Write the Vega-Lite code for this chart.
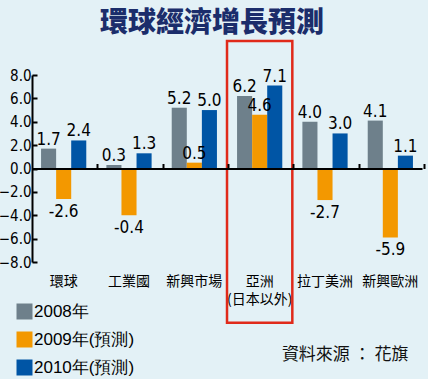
{
  "$schema": "https://vega.github.io/schema/vega-lite/v6.json",
  "width": 390,
  "height": 187,
  "autosize": {"type": "none"},
  "padding": {"left": 32, "top": 75, "right": 6, "bottom": 117},
  "background": "#e3f1f6",
  "title": {
    "text": "環球經濟增長預測",
    "font": "Noto Sans CJK TC",
    "fontSize": 28,
    "fontWeight": 900,
    "color": "#1b2d6b",
    "anchor": "middle",
    "dx": -15,
    "offset": 2
  },
  "config": {
    "view": {"stroke": null},
    "axis": {"grid": false}
  },
  "data": {
    "values": [
      {"region": "環球", "series": "2008年", "value": 1.7, "label": "1.7"},
      {"region": "環球", "series": "2009年(預測)", "value": -2.6, "label": "-2.6"},
      {"region": "環球", "series": "2010年(預測)", "value": 2.4, "label": "2.4"},
      {"region": "工業國", "series": "2008年", "value": 0.3, "label": "0.3"},
      {"region": "工業國", "series": "2009年(預測)", "value": -4.0, "label": "-0.4"},
      {"region": "工業國", "series": "2010年(預測)", "value": 1.3, "label": "1.3"},
      {"region": "新興市場", "series": "2008年", "value": 5.2, "label": "5.2"},
      {"region": "新興市場", "series": "2009年(預測)", "value": 0.5, "label": "0.5"},
      {"region": "新興市場", "series": "2010年(預測)", "value": 5.0, "label": "5.0"},
      {"region": "亞洲(日本以外)", "series": "2008年", "value": 6.2, "label": "6.2"},
      {"region": "亞洲(日本以外)", "series": "2009年(預測)", "value": 4.6, "label": "4.6"},
      {"region": "亞洲(日本以外)", "series": "2010年(預測)", "value": 7.1, "label": "7.1"},
      {"region": "拉丁美洲", "series": "2008年", "value": 4.0, "label": "4.0"},
      {"region": "拉丁美洲", "series": "2009年(預測)", "value": -2.7, "label": "-2.7"},
      {"region": "拉丁美洲", "series": "2010年(預測)", "value": 3.0, "label": "3.0"},
      {"region": "新興歐洲", "series": "2008年", "value": 4.1, "label": "4.1"},
      {"region": "新興歐洲", "series": "2009年(預測)", "value": -5.9, "label": "-5.9"},
      {"region": "新興歐洲", "series": "2010年(預測)", "value": 1.1, "label": "1.1"}
    ]
  },
  "resolve": {"axis": {"x": "independent", "y": "independent"}},
  "layer": [
    {
      "mark": {"type": "bar"},
      "encoding": {
        "x": {
          "field": "region",
          "type": "nominal",
          "sort": ["環球", "工業國", "新興市場", "亞洲(日本以外)", "拉丁美洲", "新興歐洲"],
          "scale": {"paddingInner": 0.3077, "paddingOuter": 0.1385},
          "axis": {
            "orient": "bottom",
            "domain": false,
            "ticks": false,
            "labelAngle": 0,
            "labelFont": "Noto Sans CJK TC",
            "labelFontSize": 14,
            "labelColor": "#000000",
            "labelPadding": 12,
            "labelLineHeight": 18,
            "labelBaseline": "top",
            "labelExpr": "split(replace(datum.label, '(', '|('), '|')",
            "title": "資料來源 ： 花旗",
            "titleFont": "Noto Sans CJK TC",
            "titleFontSize": 17,
            "titleFontWeight": "normal",
            "titleColor": "#111111",
            "titleAlign": "right",
            "titleBaseline": "middle",
            "titleX": 376,
            "titleY": 92
          }
        },
        "xOffset": {
          "field": "series",
          "type": "nominal",
          "scale": {"domain": ["2008年", "2009年(預測)", "2010年(預測)"], "paddingInner": 0, "paddingOuter": 0}
        },
        "y": {
          "field": "value",
          "type": "quantitative",
          "scale": {"domain": [-8, 8], "nice": false},
          "axis": {
            "orient": "left",
            "title": null,
            "values": [-8, -6, -4, -2, 0, 2, 4, 6, 8],
            "labelOverlap": false,
            "format": ".1f",
            "domainColor": "#000000",
            "domainWidth": 2,
            "tickColor": "#000000",
            "tickWidth": 2,
            "tickSize": -5,
            "labelFont": "DejaVu Sans Condensed, Liberation Sans",
            "labelFontSize": 15,
            "labelColor": "#000000",
            "labelPadding": 6
          }
        },
        "color": {
          "field": "series",
          "type": "nominal",
          "scale": {
            "domain": ["2008年", "2009年(預測)", "2010年(預測)"],
            "range": ["#6e808b", "#f39800", "#0055a5"]
          },
          "legend": {
            "title": null,
            "orient": "none",
            "legendX": -16,
            "legendY": 228,
            "padding": 0,
            "symbolType": "square",
            "symbolSize": 256,
            "symbolStrokeWidth": 0,
            "symbolOpacity": 1,
            "labelFont": "Liberation Sans",
            "labelFontSize": 17,
            "labelColor": "#000000",
            "labelOffset": 1,
            "rowPadding": 10
          }
        }
      }
    },
    {
      "transform": [{"filter": "datum.value >= 0"}],
      "mark": {"type": "text", "baseline": "alphabetic", "dy": -4, "font": "DejaVu Sans Condensed, Liberation Sans", "fontSize": 17, "color": "#000000"},
      "encoding": {
        "x": {"field": "region", "type": "nominal", "sort": ["環球", "工業國", "新興市場", "亞洲(日本以外)", "拉丁美洲", "新興歐洲"], "axis": null},
        "xOffset": {"field": "series", "type": "nominal"},
        "y": {"field": "value", "type": "quantitative", "axis": null},
        "text": {"field": "label", "type": "nominal"}
      }
    },
    {
      "transform": [{"filter": "datum.value < 0"}],
      "mark": {"type": "text", "baseline": "top", "dy": 5, "font": "DejaVu Sans Condensed, Liberation Sans", "fontSize": 17, "color": "#000000"},
      "encoding": {
        "x": {"field": "region", "type": "nominal", "sort": ["環球", "工業國", "新興市場", "亞洲(日本以外)", "拉丁美洲", "新興歐洲"], "axis": null},
        "xOffset": {"field": "series", "type": "nominal"},
        "y": {"field": "value", "type": "quantitative", "axis": null},
        "text": {"field": "label", "type": "nominal"}
      }
    },
    {
      "data": {"values": [{"region": "亞洲(日本以外)", "top": 10.9, "bottom": -13.2}]},
      "mark": {"type": "bar", "fill": null, "fillOpacity": 0, "stroke": "#e02a1a", "strokeWidth": 2.5, "width": {"band": 1.444}, "clip": false},
      "encoding": {
        "x": {
          "field": "region",
          "type": "nominal",
          "sort": ["環球", "工業國", "新興市場", "亞洲(日本以外)", "拉丁美洲", "新興歐洲"],
          "axis": {
            "orient": "bottom",
            "offset": -93.5,
            "labels": false,
            "title": null,
            "domainColor": "#000000",
            "domainWidth": 2,
            "tickColor": "#000000",
            "tickWidth": 2,
            "tickSize": -5,
            "bandPosition": 1,
            "tickOffset": 11,
            "zindex": 1
          }
        },
        "y": {"field": "top", "type": "quantitative", "axis": null},
        "y2": {"field": "bottom"}
      }
    }
  ]
}
